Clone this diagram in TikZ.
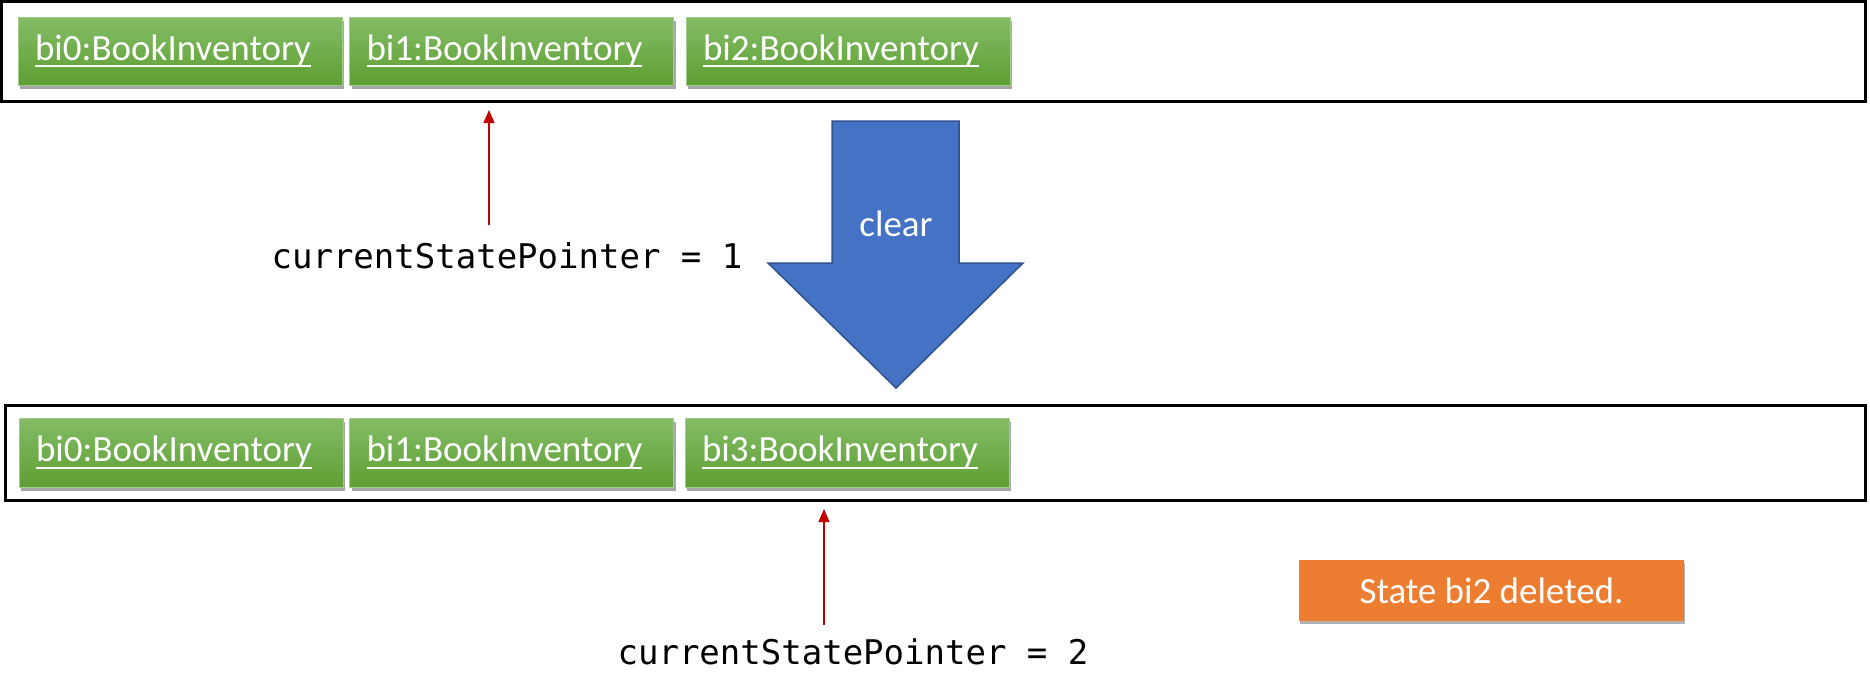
\documentclass[tikz,border=0pt]{standalone}
\usepackage{fontspec}
\setmainfont{Carlito}
\newfontfamily\monof{DejaVu Sans Mono}
\usetikzlibrary{arrows.meta,shadows}
\definecolor{gtop}{HTML}{84BC66}
\definecolor{gbot}{HTML}{5E9F33}
\definecolor{gedge}{HTML}{A3CC8A}
\definecolor{blueA}{HTML}{4472C4}
\definecolor{blueB}{HTML}{2F528F}
\definecolor{orangeA}{HTML}{ED7D31}
\definecolor{redA}{HTML}{C00000}
\newcommand\myul[1]{\leavevmode\setbox0=\hbox{#1}\rlap{\rule[-7pt]{\wd0}{2pt}}\box0}
\tikzset{
  frame/.style={draw=black, line width=3pt, rectangle, inner sep=0pt},
  gbox/.style={rectangle, minimum width=324pt, minimum height=68pt, inner xsep=17pt,
    text width=290pt, align=left, top color=gtop, bottom color=gbot, draw=gedge,
    line width=0.8pt, text=white, font=\fontsize{37}{44}\selectfont,
    drop shadow={shadow xshift=2pt, shadow yshift=-4pt, opacity=0.35, fill=black}},
  mono/.style={font=\monof\fontsize{34}{40}\selectfont, text=black, inner sep=0pt},
  ptr/.style={draw=redA, line width=1.3pt, -{Triangle[width=11pt,length=13pt]}},
  obox/.style={rectangle, fill=orangeA, minimum width=385pt, minimum height=61pt,
    text=white, font=\fontsize{37}{44}\selectfont,
    drop shadow={shadow xshift=1pt, shadow yshift=-3pt, opacity=0.3, fill=black}},
  bigarrow/.style={fill=blueA, draw=blueB, line width=1.5pt, line join=miter}
}
\begin{document}
\begin{tikzpicture}[x=1pt,y=-1pt]
\useasboundingbox (0,0) rectangle (1870,696);
% frames
\node[frame, minimum width=1863.5pt, minimum height=99.5pt] (topframe) at (933.25,51.25) {};
\node[frame, minimum width=1859.5pt, minimum height=95pt] (botframe) at (935.25,452.5) {};
% top states
\node[gbox] (t0) at (180,51) {\myul{bi0:BookInventory}};
\node[gbox] (t1) at (511.5,51) {\myul{bi1:BookInventory}};
\node[gbox] (t2) at (848,51) {\myul{bi2:BookInventory}};
% bottom states
\node[gbox, minimum height=69pt] (b0) at (181,452.5) {\myul{bi0:BookInventory}};
\node[gbox, minimum height=69pt] (b1) at (511.5,452.5) {\myul{bi1:BookInventory}};
\node[gbox, minimum height=69pt] (b3) at (847,452.5) {\myul{bi3:BookInventory}};
% clear arrow
\draw[bigarrow] (832,121) -- (959,121) -- (959,263) -- (1023,263) -- (896,388)
  -- (768,263) -- (832,263) -- cycle;
\node[text=white, font=\fontsize{37}{44}\selectfont, anchor=base, inner sep=0pt] (clr) at (896,236) {clear};
% pointers
\node[mono, anchor=base] (cp1) at (507,268) {currentStatePointer = 1};
\coordinate (a1s) at (489,225);
\coordinate (a1e) at (489,110);
\draw[ptr] (a1s) -- (a1e);
\node[mono, anchor=base] (cp2) at (853,664) {currentStatePointer = 2};
\coordinate (a2s) at (824,625);
\coordinate (a2e) at (824,509);
\draw[ptr] (a2s) -- (a2e);
% note
\node[obox] (note) at (1491.5,590.5) {State bi2 deleted.};
\end{tikzpicture}
\end{document}
